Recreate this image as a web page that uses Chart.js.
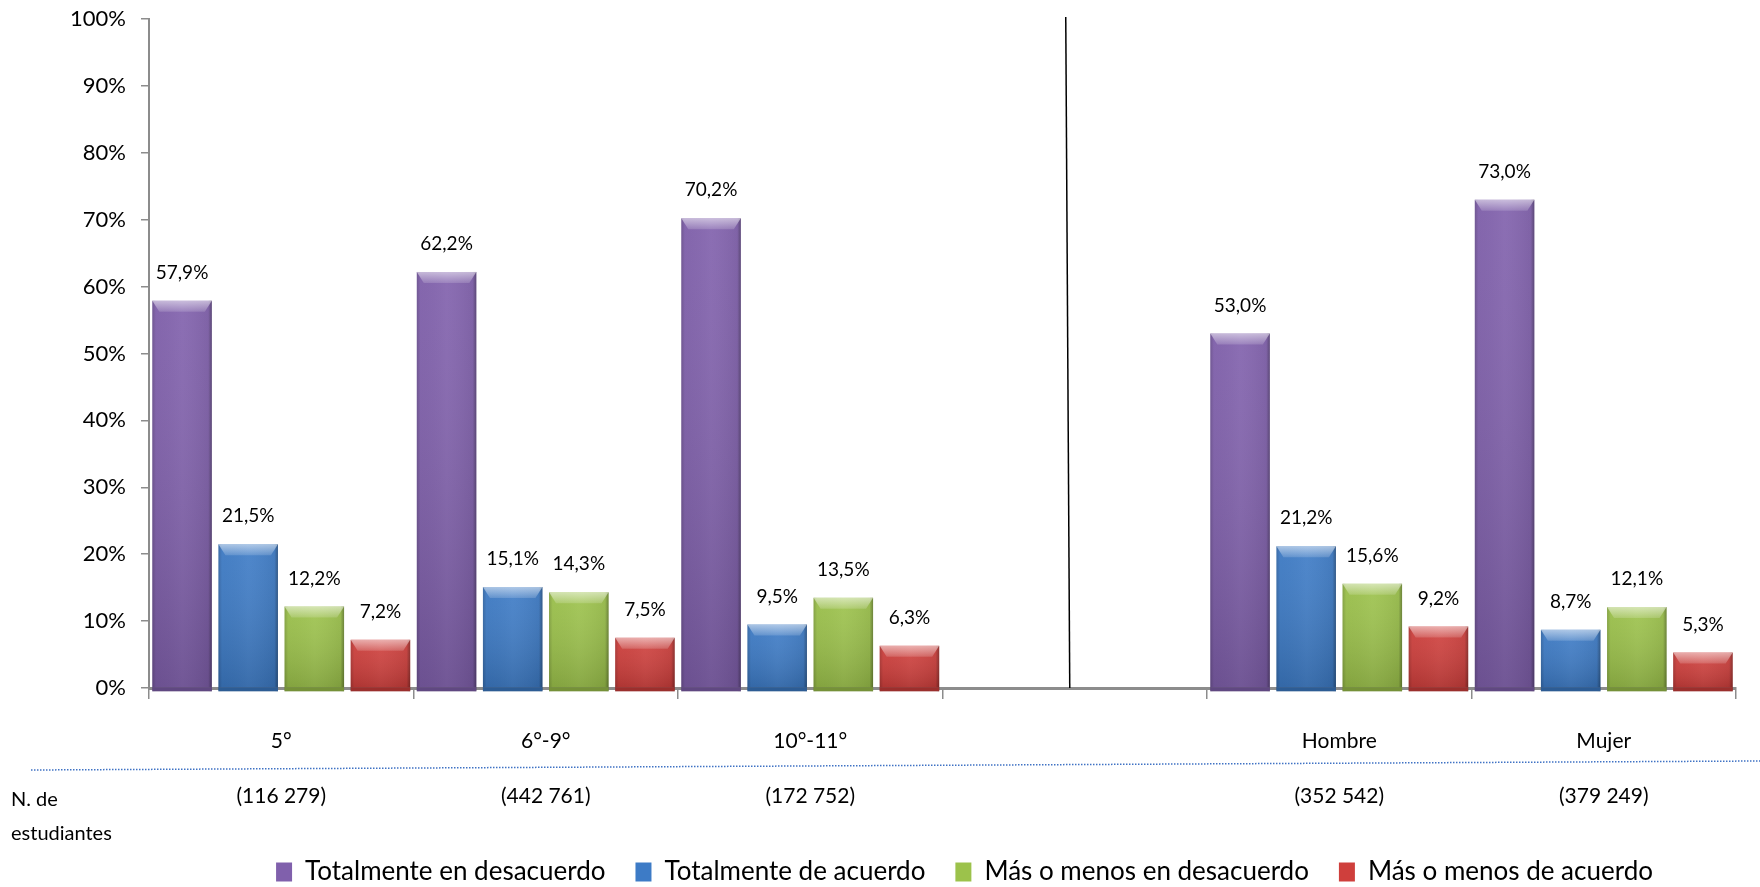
<!DOCTYPE html>
<html lang="es">
<head>
  <meta charset="UTF-8">
  <title>Opinión de estudiantes</title>
  <script src="https://cdn.jsdelivr.net/npm/chart.js"></script>
  <style>
    html, body { margin: 0; padding: 0; background: #fff; overflow: hidden; }
    .container { width: 1760px; height: 887px; }
  </style>
</head>
<body>
  <div class="container">
    <canvas id="myChart"></canvas>
  </div>
  <script>
    const categories = ['5°', '6°-9°', '10°-11°', '', 'Hombre', 'Mujer']
    const counts = ['(116 279)', '(442 761)', '(172 752)', '', '(352 542)', '(379 249)']

    const totDesacuerdo = [57.9, 62.2, 70.2, null, 53.0, 73.0]
    const totAcuerdo = [21.5, 15.1, 9.5, null, 21.2, 8.7]
    const masMenosDesacuerdo = [12.2, 14.3, 13.5, null, 15.6, 12.1]
    const masMenosAcuerdo = [7.2, 7.5, 6.3, null, 9.2, 5.3]

    const yTicks = [0, 10, 20, 30, 40, 50, 60, 70, 80, 90, 100]

    const FONT = 'Lato, "Noto Sans", sans-serif'

    const fmt = v => v.toFixed(1).replace('.', ',') + '%'

    // bevel look of the old office bars + value labels
    const barDecor = {
      id: 'barDecor',
      afterDatasetsDraw(chart) {
        const ctx = chart.ctx
        chart.data.datasets.forEach((ds, di) => {
          const meta = chart.getDatasetMeta(di)
          meta.data.forEach((bar, i) => {
            const v = ds.data[i]
            if (v == null) return
            const { x, y, base, width } = bar.getProps(['x', 'y', 'base', 'width'], true)
            const l = x - width / 2, r = x + width / 2
            ctx.save()
            // side shading
            const g = ctx.createLinearGradient(l, 0, r, 0)
            g.addColorStop(0, 'rgba(0,0,0,0.18)')
            g.addColorStop(0.06, 'rgba(0,0,0,0.02)')
            g.addColorStop(0.5, 'rgba(255,255,255,0.04)')
            g.addColorStop(0.94, 'rgba(0,0,0,0.06)')
            g.addColorStop(1, 'rgba(0,0,0,0.35)')
            ctx.fillStyle = g
            ctx.fillRect(l, y, width, base - y + 4)
            // darker toward the bottom
            const gv = ctx.createLinearGradient(0, y, 0, base)
            gv.addColorStop(0, 'rgba(255,255,255,0.05)')
            gv.addColorStop(1, 'rgba(0,0,0,0.14)')
            ctx.fillStyle = gv
            ctx.fillRect(l, y, width, base - y + 4)
            // bottom lip under the axis
            ctx.fillStyle = ds.backgroundColor
            ctx.fillRect(l, base, width, 4)
            ctx.fillStyle = 'rgba(0,0,0,0.25)'
            ctx.fillRect(l, base, width, 4)
            // top bevel
            const bh = Math.min(11, (base - y) / 2)
            const gt = ctx.createLinearGradient(0, y, 0, y + bh)
            gt.addColorStop(0, 'rgba(255,255,255,0.55)')
            gt.addColorStop(1, 'rgba(255,255,255,0.15)')
            ctx.fillStyle = gt
            ctx.beginPath()
            ctx.moveTo(l, y)
            ctx.lineTo(r, y)
            ctx.lineTo(r - 7, y + bh)
            ctx.lineTo(l + 7, y + bh)
            ctx.closePath()
            ctx.fill()
            ctx.restore()

            ctx.save()
            ctx.fillStyle = '#000'
            ctx.font = '19px ' + FONT
            ctx.textAlign = 'center'
            ctx.textBaseline = 'middle'
            ctx.fillText(fmt(v), x, y - 28)
            ctx.restore()
          })
        })
      }
    }

    // separator line, dotted rule and the row title under the axis
    const extras = {
      id: 'extras',
      afterLayout(chart) {
        // legend sits a bit lower and to the right in the original
        const lg = chart.legend
        lg.left += 22; lg.right += 22
        lg.top += 8; lg.bottom += 8
      },
      afterDraw(chart) {
        const ctx = chart.ctx
        const xs = chart.scales.x
        const ys = chart.scales.y
        const midX = xs.getPixelForValue(3) - 7
        ctx.save()
        ctx.strokeStyle = '#000'
        ctx.lineWidth = 1.5
        ctx.beginPath()
        ctx.moveTo(midX - 2, ys.top - 2)
        ctx.lineTo(midX + 2, ys.bottom)
        ctx.stroke()

        ctx.strokeStyle = '#3F72C4'
        ctx.lineWidth = 1.5
        ctx.setLineDash([1.5, 1.5])
        ctx.beginPath()
        ctx.moveTo(31, ys.bottom + 82)
        ctx.lineTo(chart.width, ys.bottom + 73)
        ctx.stroke()
        ctx.setLineDash([])

        ctx.fillStyle = '#000'
        ctx.font = '20px ' + FONT
        ctx.textAlign = 'left'
        ctx.textBaseline = 'middle'
        ctx.fillText('N. de', 11, ys.bottom + 112)
        ctx.fillText('estudiantes', 11, ys.bottom + 146)
        ctx.restore()
      }
    }

    const ctx = document.getElementById('myChart')

    new Chart(ctx, {
      type: 'bar',
      data: {
        labels: categories,
        datasets: [
          { label: 'Totalmente en desacuerdo', data: totDesacuerdo, backgroundColor: '#8060AC' },
          { label: 'Totalmente de acuerdo', data: totAcuerdo, backgroundColor: '#3D7BC6' },
          { label: 'Más o menos en desacuerdo', data: masMenosDesacuerdo, backgroundColor: '#9CC24B' },
          { label: 'Más o menos de acuerdo', data: masMenosAcuerdo, backgroundColor: '#CF3F3C' }
        ]
      },
      options: {
        responsive: true,
        maintainAspectRatio: false,
        animation: false,
        categoryPercentage: 1.0,
        barPercentage: 0.9,
        layout: { padding: { top: 19, right: 24, left: 0, bottom: 0 } },
        plugins: {
          tooltip: { enabled: false },
          legend: {
            position: 'bottom',
            fullSize: false,
            labels: {
              font: { family: FONT, size: 26 },
              color: '#000',
              boxWidth: 16,
              boxHeight: 19,
              padding: 30
            }
          }
        },
        scales: {
          x: {
            afterFit: s => { s.height = 133 },
            border: { color: '#8C8C8C', width: 3 },
            grid: { offset: true, drawOnChartArea: false, drawTicks: true, tickLength: 11, color: '#8C8C8C', lineWidth: 1.5 },
            ticks: {
              color: '#000',
              padding: 29,
              font: { family: FONT, size: 21, lineHeight: 1.3 },
              callback: (v, i) => categories[i] ? [categories[i], '', counts[i]] : ''
            }
          },
          y: {
            min: 0,
            max: 100,
            afterFit: s => {
              s.width = 149
              s.paddingTop = 13
              s.paddingBottom = 13
            },
            afterBuildTicks: s => { s.ticks = yTicks.map(v => ({ value: v })) },
            border: { color: '#8C8C8C', width: 2 },
            grid: { drawOnChartArea: false, drawTicks: true, tickLength: 8, color: '#8C8C8C', lineWidth: 1.5 },
            ticks: {
              color: '#000',
              padding: 15,
              font: { family: FONT, size: 22 },
              callback: v => v + '%'
            }
          }
        }
      },
      plugins: [barDecor, extras]
    })
  </script>
</body>
</html>
